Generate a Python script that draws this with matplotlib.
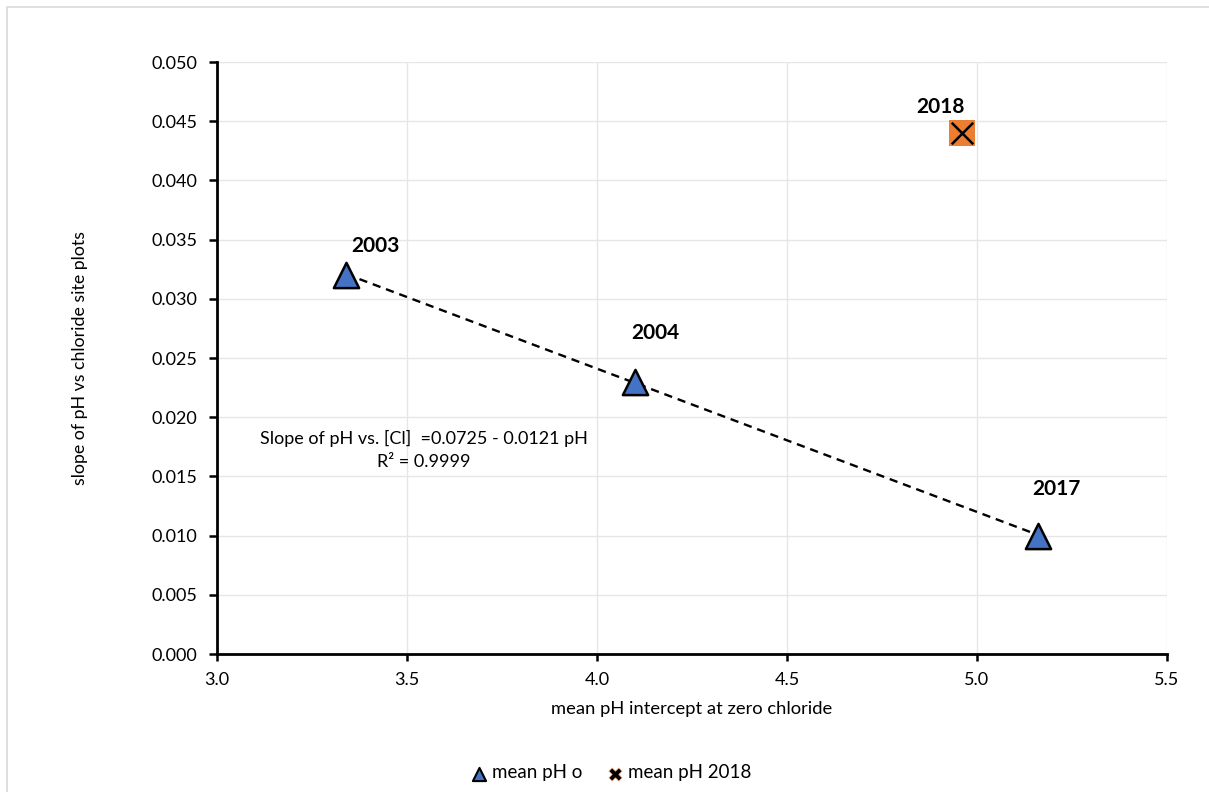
import numpy as np
import matplotlib
matplotlib.use("Agg")
import matplotlib.pyplot as plt
from matplotlib.patches import Rectangle

plt.rcParams['font.family'] = ['Lato', 'DejaVu Sans']

# survey years on the fitted line
years = ['2003', '2004', '2017']
mean_ph = [3.34, 4.10, 5.16]
slope_cl = [0.032, 0.023, 0.010]

# the odd one out
year_2018 = '2018'
mean_ph_2018 = [4.96]
slope_cl_2018 = [0.044]

# fit quoted on the chart
fit_a = 0.0725
fit_b = -0.0121
fit_r2 = 0.9999

xticks = [3.0, 3.5, 4.0, 4.5, 5.0, 5.5]
yticks = [0.000, 0.005, 0.010, 0.015, 0.020, 0.025, 0.030, 0.035, 0.040, 0.045, 0.050]

fig = plt.figure(figsize=(12.09, 7.92), dpi=100)
fig.patches.append(Rectangle((0.006, -0.01), 1.2, 1.001, transform=fig.transFigure,
                             fill=False, edgecolor='#d9d9d9', linewidth=1.2))
ax = fig.add_axes([0.1795, 0.1742, 0.7858, 0.7475])

xs = np.array([mean_ph[0], mean_ph[-1]])
ax.plot(xs, fit_a + fit_b * xs, ls=(0, (3.5, 2.5)), color='black', lw=1.7, zorder=2)

ax.scatter(mean_ph, slope_cl, marker='^', s=330, color='#4472c4',
           edgecolor='black', linewidth=1.8, zorder=3, label='mean pH o')
ax.scatter(mean_ph_2018, slope_cl_2018, marker='s', s=360, color='#ed7d31',
           edgecolor='none', zorder=3)
ax.scatter(mean_ph_2018, slope_cl_2018, marker='x', s=240, color='black',
           linewidth=1.8, zorder=4)

# legend proxies
h1 = ax.scatter([], [], marker='^', s=90, color='#4472c4', edgecolor='black', linewidth=1.5)
h2 = ax.scatter([], [], marker='X', s=90, color='black', edgecolor='#f4b183', linewidth=0.5)

label_offsets = [(0.012, 0.0025), (-0.01, 0.0041), (-0.015, 0.0039)]
for yr, x, y, (dx, dy) in zip(years, mean_ph, slope_cl, label_offsets):
    ax.text(x + dx, y + dy, yr, fontsize=15, fontweight='bold', ha='left', va='center')
ax.text(mean_ph_2018[0] + 0.008, slope_cl_2018[0] + 0.0022, year_2018, fontsize=15,
        fontweight='bold', ha='right', va='center')

ax.text(3.545, 0.0182, 'Slope of pH vs. [Cl]  =%.4f - %.4f pH' % (fit_a, -fit_b),
        fontsize=13, ha='center', va='center')
ax.text(3.545, 0.0162, 'R² = %.4f' % fit_r2, fontsize=13, ha='center', va='center')

ax.set_xlim(3.0, 5.5)
ax.set_ylim(0.0, 0.050)
ax.set_xticks(xticks)
ax.set_yticks(yticks)
ax.set_xticklabels(['%.1f' % v for v in xticks])
ax.set_yticklabels(['%.3f' % v for v in yticks])
ax.tick_params(axis='both', labelsize=13, colors='black', width=1.8, length=6, direction='out')
ax.tick_params(axis='y', pad=8)
ax.tick_params(axis='x', length=5, pad=8)
ax.grid(True, color='#e6e6e6', lw=1)
ax.set_axisbelow(True)
for s in ['top', 'right']:
    ax.spines[s].set_visible(False)
for s in ['left', 'bottom']:
    ax.spines[s].set_linewidth(2)

ax.set_xlabel('mean pH intercept at zero chloride', fontsize=13.2, labelpad=9)
ax.set_ylabel('slope of pH vs chloride site plots', fontsize=12.8, labelpad=46)

fig.legend([h1, h2], ['mean pH o', 'mean pH 2018'], loc='center', bbox_to_anchor=(0.505, 0.024),
           ncol=2, frameon=False, fontsize=13.5, handletextpad=0.2, columnspacing=1.2,
           handlelength=1.0)

fig.savefig('out.png', dpi=100)
